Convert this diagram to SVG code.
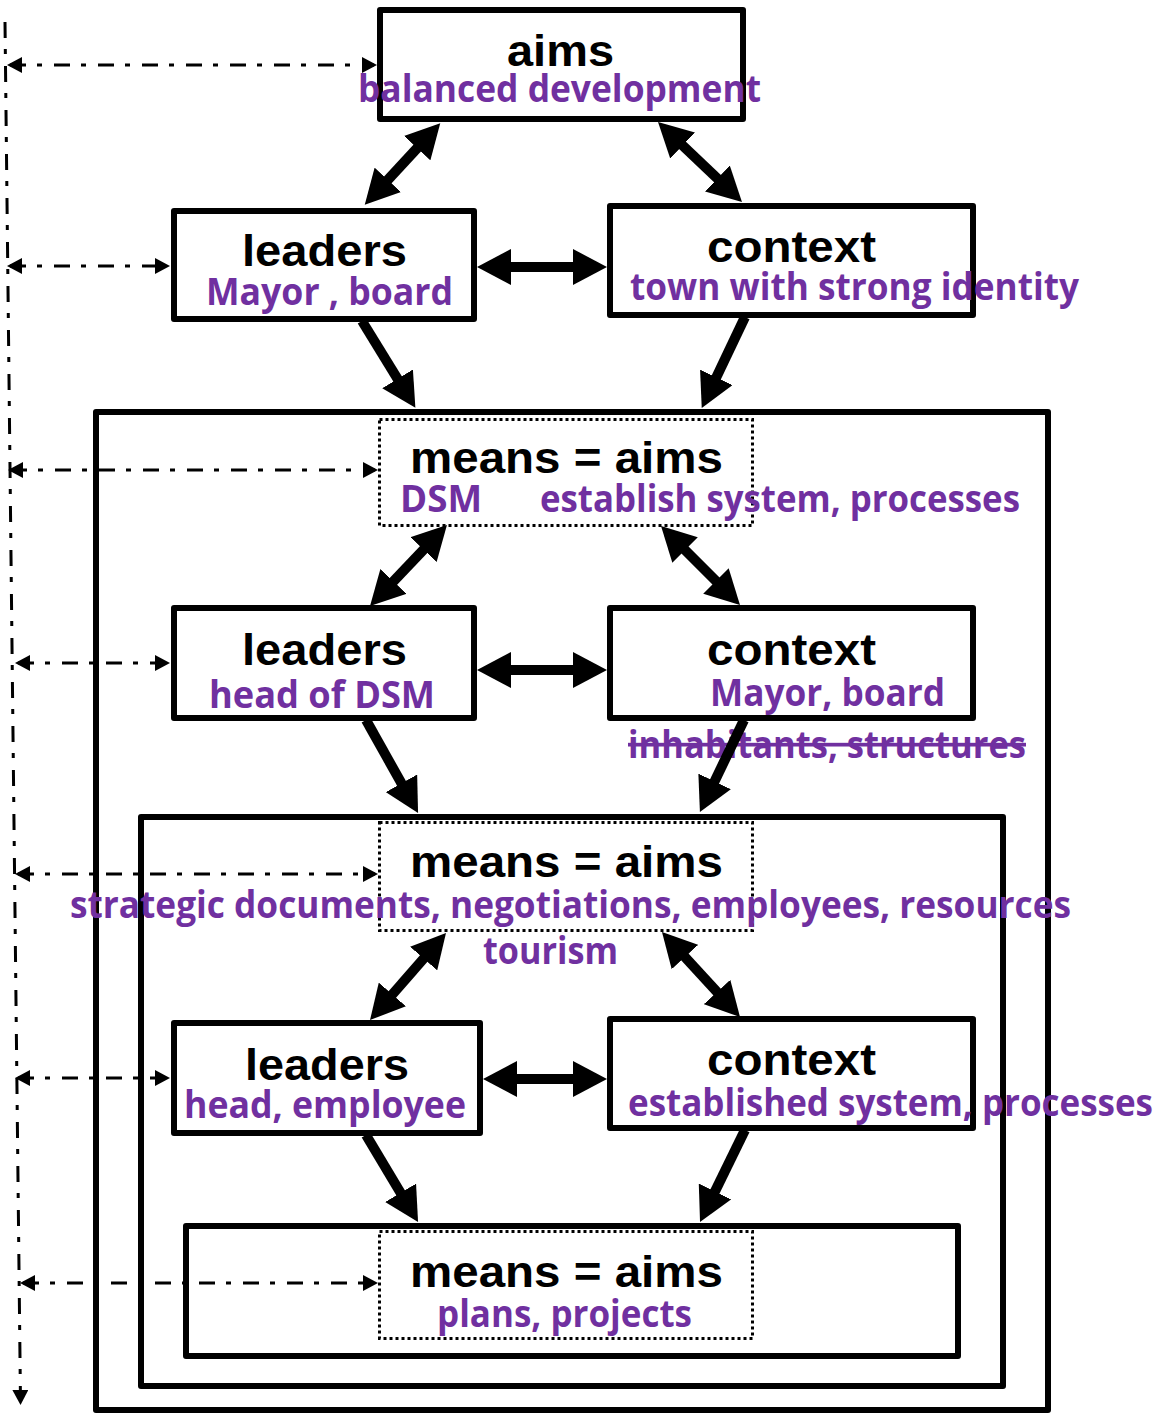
<svg xmlns="http://www.w3.org/2000/svg" width="1157" height="1415" viewBox="0 0 1157 1415">
<defs>
<style>
.box{fill:#fff;stroke:#000;stroke-width:6;stroke-linejoin:round}
.cont{fill:none;stroke:#000;stroke-width:6;stroke-linejoin:round}
.dot{fill:#fff;stroke:#000;stroke-width:3;stroke-dasharray:3 3}
.t{font-family:"Liberation Sans",Arial,sans-serif;font-weight:bold;font-size:45px;fill:#000}
.p{font-family:"Open Sans","Noto Sans",sans-serif;font-weight:bold;font-size:37px;fill:#7030A0}
.arr{stroke:#000;stroke-width:10;fill:none;marker-end:url(#big)}
.arr2{stroke:#000;stroke-width:10;fill:none;marker-start:url(#big);marker-end:url(#big)}
.dd{stroke:#000;stroke-width:3;fill:none;stroke-dasharray:16 11 5 12;marker-start:url(#sm);marker-end:url(#sm)}
</style>
<marker id="big" markerUnits="userSpaceOnUse" markerWidth="34" markerHeight="36" viewBox="0 0 34 36" refX="22" refY="18" orient="auto-start-reverse">
<path d="M0,0 L34,18 L0,36 Z" fill="#000"/>
</marker>
<marker id="sm" markerUnits="userSpaceOnUse" markerWidth="15" markerHeight="16" viewBox="0 0 15 16" refX="12" refY="8" orient="auto-start-reverse">
<path d="M0,0 L15,8 L0,16 Z" fill="#000"/>
</marker>
</defs>
<rect width="1157" height="1415" fill="#fff"/>

<g id="containers">
<rect id="container1" class="cont" x="96" y="412" width="952" height="998"/>
<rect id="container2" class="cont" x="141" y="817" width="862" height="569"/>
<rect id="container3" class="cont" x="186" y="1226" width="772" height="130"/>
</g>

<g id="aims">
<rect class="box" x="380" y="10" width="363" height="109"/>
<text class="t" x="507" y="66" textLength="107" lengthAdjust="spacingAndGlyphs">aims</text>
<text class="p" x="358" y="102" textLength="403" lengthAdjust="spacingAndGlyphs">balanced development</text>
</g>

<g id="leaders1">
<rect class="box" x="174" y="211" width="300" height="108"/>
<text class="t" x="242" y="266" textLength="165" lengthAdjust="spacingAndGlyphs">leaders</text>
<text class="p" x="206" y="305" textLength="247" lengthAdjust="spacingAndGlyphs">Mayor , board</text>
</g>

<g id="context1">
<rect class="box" x="610" y="206" width="363" height="109"/>
<text class="t" x="707" y="262" textLength="169" lengthAdjust="spacingAndGlyphs">context</text>
<text class="p" x="630" y="300" textLength="449" lengthAdjust="spacingAndGlyphs">town with strong identity</text>
</g>

<g id="means1">
<rect class="dot" x="379.5" y="419.5" width="373" height="106"/>
<text class="t" x="410" y="473" textLength="313" lengthAdjust="spacingAndGlyphs">means = aims</text>
<text class="p" x="400" y="512" textLength="82" lengthAdjust="spacingAndGlyphs">DSM</text>
<text class="p" x="540" y="512" textLength="480" lengthAdjust="spacingAndGlyphs">establish system, processes</text>
</g>

<g id="leaders2">
<rect class="box" x="174" y="608" width="300" height="110"/>
<text class="t" x="242" y="665" textLength="165" lengthAdjust="spacingAndGlyphs">leaders</text>
<text class="p" x="209" y="708" textLength="226" lengthAdjust="spacingAndGlyphs">head of DSM</text>
</g>

<g id="context2">
<rect class="box" x="610" y="608" width="363" height="110"/>
<text class="t" x="707" y="665" textLength="169" lengthAdjust="spacingAndGlyphs">context</text>
<text class="p" x="710" y="706" textLength="235" lengthAdjust="spacingAndGlyphs">Mayor, board</text>
<text class="p" x="628" y="758" textLength="398" lengthAdjust="spacingAndGlyphs" text-decoration="line-through">inhabitants, structures</text>
</g>

<g id="means2">
<rect class="dot" x="379.5" y="822.5" width="373" height="108"/>
<text class="t" x="410" y="877" textLength="313" lengthAdjust="spacingAndGlyphs">means = aims</text>
<text class="p" x="70" y="918" textLength="1001" lengthAdjust="spacingAndGlyphs">strategic documents, negotiations, employees, resources</text>
<text class="p" x="483" y="964" textLength="135" lengthAdjust="spacingAndGlyphs">tourism</text>
</g>

<g id="leaders3">
<rect class="box" x="174" y="1023" width="306" height="110"/>
<text class="t" x="245" y="1080" textLength="164" lengthAdjust="spacingAndGlyphs">leaders</text>
<text class="p" x="184" y="1118" textLength="282" lengthAdjust="spacingAndGlyphs">head, employee</text>
</g>

<g id="context3">
<rect class="box" x="610" y="1019" width="363" height="109"/>
<text class="t" x="707" y="1075" textLength="169" lengthAdjust="spacingAndGlyphs">context</text>
<text class="p" x="628" y="1116" textLength="525" lengthAdjust="spacingAndGlyphs">established system, processes</text>
</g>

<g id="means3">
<rect class="dot" x="379.5" y="1231.5" width="373" height="107"/>
<text class="t" x="410" y="1287" textLength="313" lengthAdjust="spacingAndGlyphs">means = aims</text>
<text class="p" x="437" y="1327" textLength="255" lengthAdjust="spacingAndGlyphs">plans, projects</text>
</g>

<g id="connectors">
<line class="arr2" x1="432.1" y1="132" x2="372.9" y2="196"/>
<line class="arr2" x1="666.7" y1="130.3" x2="733.3" y2="193.7"/>
<line class="arr2" x1="489" y1="267" x2="595" y2="267"/>
<line class="arr" x1="362" y1="321" x2="409.1" y2="397.6"/>
<line class="arr" x1="745" y1="317" x2="706.9" y2="397.2"/>

<line class="arr2" x1="438.7" y1="533.7" x2="378.3" y2="597.3"/>
<line class="arr2" x1="669.5" y1="534.5" x2="731.5" y2="596.5"/>
<line class="arr2" x1="489" y1="670" x2="595" y2="670"/>
<line class="arr" x1="366" y1="720" x2="412.2" y2="802.5"/>
<line class="arr" x1="744" y1="720" x2="705.1" y2="801.2"/>

<line class="arr2" x1="438.1" y1="942" x2="377.9" y2="1011"/>
<line class="arr2" x1="670.1" y1="940.8" x2="731.9" y2="1008.2"/>
<line class="arr2" x1="495" y1="1079" x2="595" y2="1079"/>
<line class="arr" x1="366" y1="1135" x2="411.9" y2="1211.7"/>
<line class="arr" x1="745" y1="1130" x2="705.3" y2="1211.2"/>

<line class="dd" x1="10" y1="65" x2="374" y2="65"/>
<line class="dd" x1="10" y1="266" x2="167" y2="266"/>
<line class="dd" x1="11" y1="470" x2="375" y2="470"/>
<line class="dd" x1="18" y1="663" x2="167" y2="663"/>
<line class="dd" x1="18" y1="874" x2="375" y2="874"/>
<line class="dd" x1="18" y1="1078" x2="167" y2="1078"/>
<line class="dd" x1="23" y1="1283" x2="375" y2="1283"/>
<line x1="5" y1="22" x2="20.5" y2="1402" stroke="#000" stroke-width="3" fill="none" stroke-dasharray="16 11 5 12" marker-end="url(#sm)"/>
</g>
</svg>
